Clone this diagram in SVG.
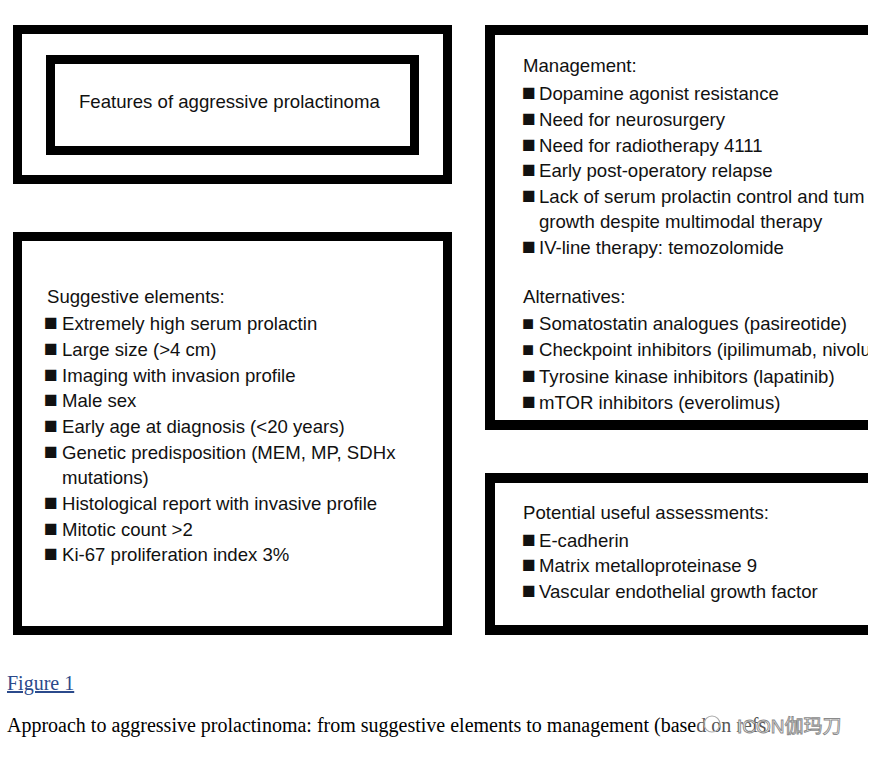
<svg xmlns="http://www.w3.org/2000/svg" width="876" height="764" viewBox="0 0 876 764">
<style>
.box{fill:none;stroke:#000;stroke-width:9}
.boxr{fill:none;stroke:#000;stroke-width:10}
.t{font-family:"Liberation Sans",Arial,Helvetica,sans-serif;font-size:18.6px;fill:#111}
.b{font-size:23px}
.cap{font-family:"Liberation Serif","Times New Roman",serif;font-size:20px;fill:#000}
.wm{font-family:"Liberation Sans","Noto Sans CJK SC",sans-serif;font-size:19px;fill:#fff;stroke:#8a8a8a;stroke-width:0.9}
</style>
<defs>
<clipPath id="crop"><rect x="0" y="0" width="868" height="764"/></clipPath>
</defs>
<rect width="876" height="764" fill="#fff"/>
<g id="connectors"/>
<g id="node-title">
<rect class="box" x="17.5" y="29.5" width="430" height="150"/>
<rect class="box" x="50.5" y="59.5" width="364" height="91"/>
<text class="t" x="79" y="108">Features of aggressive prolactinoma</text>
</g>
<g id="node-suggestive">
<rect class="box" x="17.5" y="236.5" width="430" height="394"/>
<text class="t" x="47" y="303">Suggestive elements:</text>
<text class="t" y="330"><tspan class="b" x="44">■</tspan><tspan x="62">Extremely high serum prolactin</tspan></text>
<text class="t" y="356"><tspan class="b" x="44">■</tspan><tspan x="62">Large size (&gt;4 cm)</tspan></text>
<text class="t" y="382"><tspan class="b" x="44">■</tspan><tspan x="62">Imaging with invasion profile</tspan></text>
<text class="t" y="407"><tspan class="b" x="44">■</tspan><tspan x="62">Male sex</tspan></text>
<text class="t" y="433"><tspan class="b" x="44">■</tspan><tspan x="62">Early age at diagnosis (&lt;20 years)</tspan></text>
<text class="t" y="459"><tspan class="b" x="44">■</tspan><tspan x="62">Genetic predisposition (MEM, MP, SDHx</tspan></text>
<text class="t" x="62" y="484">mutations)</text>
<text class="t" y="510"><tspan class="b" x="44">■</tspan><tspan x="62">Histological report with invasive profile</tspan></text>
<text class="t" y="536"><tspan class="b" x="44">■</tspan><tspan x="62">Mitotic count &gt;2</tspan></text>
<text class="t" y="561"><tspan class="b" x="44">■</tspan><tspan x="62">Ki-67 proliferation index 3%</tspan></text>
</g>
<g id="node-management" clip-path="url(#crop)">
<rect class="boxr" x="490" y="30" width="420" height="395"/>
<text class="t" x="523" y="72">Management:</text>
<text class="t" y="100"><tspan class="b" x="522">■</tspan><tspan x="539">Dopamine agonist resistance</tspan></text>
<text class="t" y="126"><tspan class="b" x="522">■</tspan><tspan x="539">Need for neurosurgery</tspan></text>
<text class="t" y="152"><tspan class="b" x="522">■</tspan><tspan x="539">Need for radiotherapy 4111</tspan></text>
<text class="t" y="177"><tspan class="b" x="522">■</tspan><tspan x="539">Early post-operatory relapse</tspan></text>
<text class="t" y="203"><tspan class="b" x="522">■</tspan><tspan x="539">Lack of serum prolactin control and tum</tspan></text>
<text class="t" x="539" y="228">growth despite multimodal therapy</text>
<text class="t" y="254"><tspan class="b" x="522">■</tspan><tspan x="539">IV-line therapy: temozolomide</tspan></text>
<text class="t" x="523" y="303">Alternatives:</text>
<text class="t" y="330"><tspan class="b" x="522" style="font-size:20px">■</tspan><tspan x="539">Somatostatin analogues (pasireotide)</tspan></text>
<text class="t" y="356"><tspan class="b" x="522" style="font-size:20px">■</tspan><tspan x="539">Checkpoint inhibitors (ipilimumab, nivolu</tspan></text>
<text class="t" y="383"><tspan class="b" x="522">■</tspan><tspan x="539">Tyrosine kinase inhibitors (lapatinib)</tspan></text>
<text class="t" y="409"><tspan class="b" x="522">■</tspan><tspan x="539">mTOR inhibitors (everolimus)</tspan></text>
</g>
<g id="node-assessments" clip-path="url(#crop)">
<rect class="boxr" x="490" y="478" width="420" height="152"/>
<text class="t" x="523" y="519">Potential useful assessments:</text>
<text class="t" y="547"><tspan class="b" x="522">■</tspan><tspan x="539">E-cadherin</tspan></text>
<text class="t" y="572"><tspan class="b" x="522">■</tspan><tspan x="539">Matrix metalloproteinase 9</tspan></text>
<text class="t" y="598"><tspan class="b" x="522">■</tspan><tspan x="539">Vascular endothelial growth factor</tspan></text>
</g>
<g id="caption">
<text class="cap" x="7" y="690" fill="#2b4a8b" style="fill:#2b4a8b" text-decoration="underline">Figure 1</text>
<text class="cap" x="7" y="732">Approach to aggressive prolactinoma: from suggestive elements to management (base<tspan fill="#555" style="fill:#555">d on refs.</tspan></text>
<circle cx="712" cy="724" r="8" fill="none" stroke="#aaa" stroke-width="1.2"/>
<text class="wm" x="737" y="733">ICON伽玛刀</text>
</g>
</svg>
